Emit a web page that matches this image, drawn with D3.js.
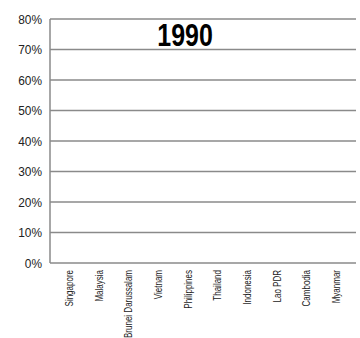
<!DOCTYPE html>
<html><head><meta charset="utf-8">
<script src="https://cdn.jsdelivr.net/npm/d3@7"></script>
<style>body{margin:0;background:#fff}svg{display:block}</style>
</head><body><svg id="c" width="360" height="338"></svg>
<script>
const categories = ["Singapore","Malaysia","Brunei Darussalam","Vietnam","Philippines","Thailand","Indonesia","Lao PDR","Cambodia","Myanmar"];
const values = [0,0,0,0,0,0,0,0,0,0];
const yTicks = [0,0.1,0.2,0.3,0.4,0.5,0.6,0.7,0.8];
const title = "1990";

const FONT = "'Liberation Sans',Arial,sans-serif";
const svg = d3.select("#c");
const m = {l:50, r:356, t:19, b:263};
const x = d3.scaleBand().domain(categories).range([m.l, m.r]).padding(0.3);
const y = d3.scaleLinear().domain([0,0.8]).range([m.b, m.t]);

// grid
svg.append("g").selectAll("line").data(yTicks).join("line")
  .attr("x1", m.l).attr("x2", m.r)
  .attr("y1", d=>y(d)).attr("y2", d=>y(d))
  .attr("stroke", "#8a8a8a").attr("stroke-width", 1.5);
// left axis line
svg.append("line").attr("x1", m.l).attr("x2", m.l).attr("y1", m.t).attr("y2", m.b)
  .attr("stroke", "#8a8a8a").attr("stroke-width", 1.5);

// bars (zero height)
svg.append("g").selectAll("rect").data(values).join("rect")
  .attr("x", (d,i)=>x(categories[i])).attr("width", x.bandwidth())
  .attr("y", d=>y(d)).attr("height", d=>y(0)-y(d)).attr("fill", "#4a7ab5");

// y labels
svg.append("g").selectAll("text").data(yTicks).join("text")
  .attr("transform", d=>`translate(42,${y(d)}) scale(0.88,1)`)
  .attr("dy", "0.35em")
  .attr("text-anchor", "end").attr("font-family", FONT).attr("font-size", 13.5)
  .attr("fill", "#222").text(d3.format(".0%"));

// x labels
svg.append("g").selectAll("text").data(categories).join("text")
  .attr("transform", d=>`translate(${x(d)+x.bandwidth()/2},270) rotate(-90) scale(0.8,1)`)
  .attr("dy", "0.35em").attr("text-anchor", "end")
  .attr("font-family", FONT).attr("font-size", 10).attr("fill", "#222").text(d=>d);

svg.append("text").attr("transform", "translate(185,46) scale(0.78,1)").attr("text-anchor", "middle")
  .attr("font-family", FONT).attr("font-weight", "bold").attr("font-size", 32)
  .attr("fill", "#000").text(title);
</script></body></html>
